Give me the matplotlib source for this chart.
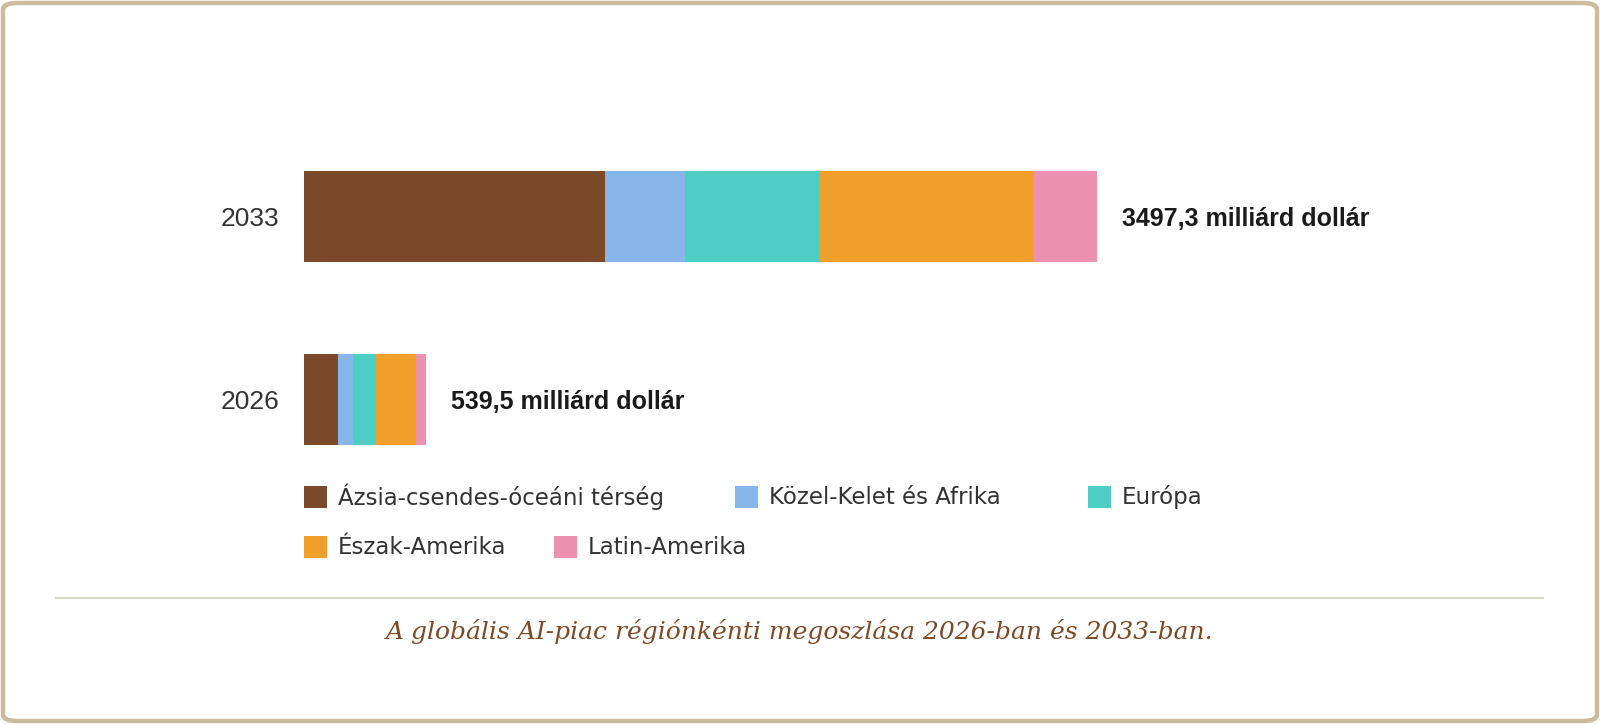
import matplotlib
matplotlib.use("Agg")
import matplotlib.pyplot as plt
from matplotlib.patches import FancyBboxPatch, Rectangle
from matplotlib.lines import Line2D

# data (milliard dollár)
years = ["2026", "2033"]
totals = [539.5, 3497.3]
regions = ["Ázsia-csendes-óceáni térség", "Közel-Kelet és Afrika", "Európa",
           "Észak-Amerika", "Latin-Amerika"]
vals_2026 = [149.6, 67.5, 101.2, 177.3, 43.9]
vals_2033 = [1327.5, 351.5, 593.6, 946.9, 277.8]
colors = ["#7b4a2a", "#87b6ea", "#4ecdc4", "#f09f2a", "#ec92b0"]
value_labels = ["539,5 milliárd dollár", "3497,3 milliárd dollár"]
caption = "A globális AI-piac régiónkénti megoszlása 2026-ban és 2033-ban."

W, H = 1600, 724
fig = plt.figure(figsize=(W / 100, H / 100), dpi=100)

# outer frame
frame = FancyBboxPatch((3 / W, 3 / H), 1 - 6 / W, 1 - 6 / H,
                       boxstyle="round,pad=0,rounding_size=0.009",
                       transform=fig.transFigure, facecolor="none",
                       edgecolor="#c9bb9b", linewidth=3.2, zorder=-1)
fig.patches.append(frame)

# axes placed in pixels
ax_left, ax_width = 304, 793
ax_top, ax_bottom = 125, 491
ax = fig.add_axes([ax_left / W, 1 - ax_bottom / H, ax_width / W, (ax_bottom - ax_top) / H])
ax.set_xlim(0, totals[1])
ax.set_ylim(-0.5, 1.5)
ax.axis("off")

series = list(zip(vals_2026, vals_2033))
left = [0.0, 0.0]
for i, name in enumerate(regions):
    ax.barh([0, 1], series[i], left=left, height=0.497, color=colors[i],
            edgecolor="none", label=name)
    left = [left[0] + series[i][0], left[1] + series[i][1]]

for y, (yr, tot, lab) in enumerate(zip(years, totals, value_labels)):
    ax.annotate(lab, (tot, y), xytext=(18, 0), textcoords="offset points",
                ha="left", va="center_baseline", fontsize=18, fontweight="bold",
                color="#1a1a1a", family="Liberation Sans", annotation_clip=False)
    ax.annotate(yr, (0, y), xytext=(-18, 0), textcoords="offset points",
                ha="right", va="center_baseline", fontsize=19, color="#333333",
                family="Liberation Sans", annotation_clip=False)

# custom legend (flow layout)
leg_pos = [(304, 497), (735, 497), (1088, 497), (304, 547), (554, 547)]
for (px, py), name, c in zip(leg_pos, regions, colors):
    fig.patches.append(Rectangle((px / W, 1 - (py + 11) / H), 23 / W, 22 / H,
                                 transform=fig.transFigure, facecolor=c,
                                 edgecolor="none"))
    fig.text((px + 34) / W, 1 - py / H, name, ha="left", va="center",
             fontsize=16.5, color="#333333", family="DejaVu Sans")

# separator and caption
fig.lines.append(Line2D([56 / W, 1543 / W], [1 - 598 / H, 1 - 598 / H],
                        transform=fig.transFigure, color="#ddd5c5", linewidth=1.5))
fig.text(0.5, 1 - 631 / H, caption, ha="center", va="center", fontsize=18,
         style="italic", color="#7b4a26", family="DejaVu Serif")

fig.savefig("out.png", dpi=100, facecolor="white")
